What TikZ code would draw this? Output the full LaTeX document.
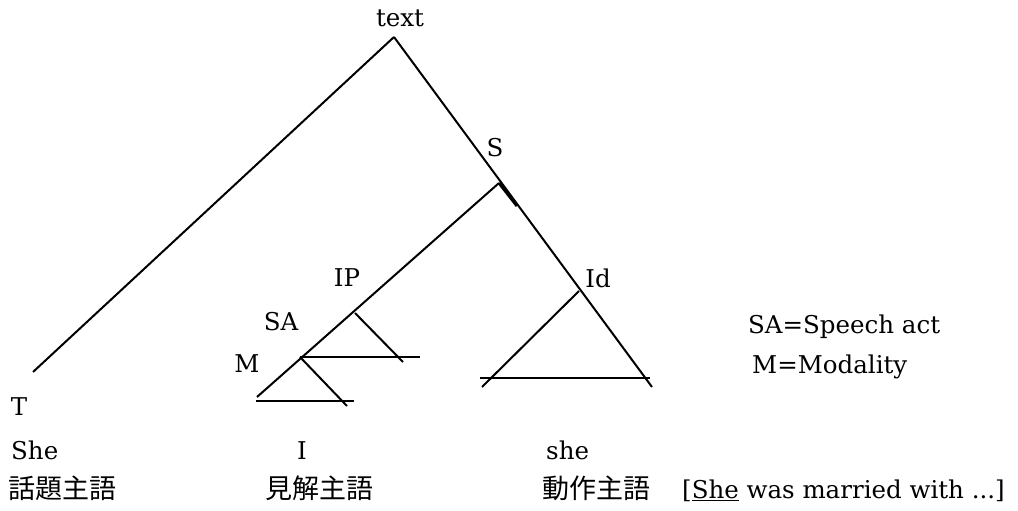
\documentclass[tikz,border=0pt]{standalone}
\usepackage{fontspec}
\setmainfont{DejaVu Serif}
\newfontfamily\jpfont{Noto Sans CJK JP}
\begin{document}
\begin{tikzpicture}[x=1pt,y=-1pt,
  lbl/.style={inner sep=0pt,font=\fontsize{24.5}{28}\selectfont},
  jp/.style={inner sep=0pt,font=\fontsize{27}{30}\selectfont\jpfont},
  edge/.style={line width=2pt}]
\useasboundingbox (0,0) rectangle (1018,511);
% tree points
\coordinate (top) at (394,37);
\coordinate (Tend) at (33,372);
\coordinate (Rend) at (652,387);
\coordinate (Spt) at (499,183);
\coordinate (Sthick) at (517,206);
\coordinate (Bend) at (257,397);
\coordinate (IPpt) at (355,313);
\coordinate (IPend) at (403,362);
\coordinate (SApt) at (300,357);
\coordinate (SAend) at (420,357);
\coordinate (Mend) at (347,406);
\coordinate (Mleft) at (256,401);
\coordinate (Mright) at (354,401);
\coordinate (Idpt) at (579,291);
\coordinate (Idleft) at (482,387);
\coordinate (Idbl) at (480,378);
\coordinate (Idbr) at (650,378);
% connectors
\draw[edge] (top) -- (Tend);
\draw[edge] (top) -- (Rend);
\draw[line width=3pt] (Spt) -- (Sthick);
\draw[edge] (Spt) -- (Bend);
\draw[edge] (IPpt) -- (IPend);
\draw[edge] (SApt) -- (SAend);
\draw[edge] (SApt) -- (Mend);
\draw[edge] (Mleft) -- (Mright);
\draw[edge] (Idpt) -- (Idleft);
\draw[edge] (Idbl) -- (Idbr);
% labels
\node[lbl] (ltext) at (400,18) {text};
\node[lbl] (lS) at (495,148) {S};
\node[lbl] (lIP) at (347,278) {IP};
\node[lbl] (lId) at (598,278) {Id};
\node[lbl] (lSA) at (281,322) {SA};
\node[lbl] (lM) at (247,364) {M};
\node[lbl] (lT) at (19,407) {T};
\node[lbl,anchor=base west] (she1) at (11,459) {She};
\node[lbl,anchor=base] (i1) at (302,459) {I};
\node[lbl,anchor=base west] (she2) at (546,459) {she};
\node[jp,anchor=west] (j1) at (8,488) {話題主語};
\node[jp,anchor=west] (j2) at (265,488) {見解主語};
\node[jp,anchor=west] (j3) at (542,488) {動作主語};
\node[lbl,anchor=base west] (ex) at (682,498) {[\underline{She} was married with ...]};
\node[lbl,anchor=base west] (k1) at (748,333) {SA=Speech act};
\node[lbl,anchor=base west] (k2) at (752,373) {M=Modality};
\end{tikzpicture}
\end{document}
